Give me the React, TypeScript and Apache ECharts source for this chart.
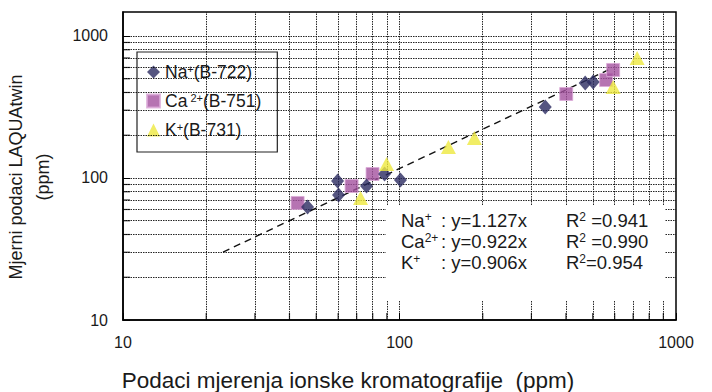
import React, { useEffect, useRef } from "react";
import * as echarts from "echarts";

// ---- data ----
const naName = "Na+(B-722)";
const caName = "Ca2+(B-751)";
const kName = "K+(B-731)";

const naData: [number, number][] = [
  [46.5, 62.5], [59.7, 95.2], [60.2, 75.9], [76.0, 87.8], [88.3, 106.7],
  [100.8, 96.8], [336.6, 316.2], [469.5, 466.7], [501.6, 474.3],
];
const caData: [number, number][] = [
  [42.8, 66.7], [67.1, 87.8], [79.9, 106.7], [400.9, 390.5], [558.9, 489.8], [592.5, 576.3],
];
const kData: [number, number][] = [
  [72.3, 72.3], [89.8, 125.5], [150.3, 165.4], [186.6, 191.3], [592.5, 437.4], [723.4, 700.0],
];
const trendData: [number, number][] = [[23.0, 30.1], [568, 576]];

const xMin = 10;
const xMax = 1000;
const yMin = 10;
const yMax = 1475;
const majorLabels = [10, 100, 1000];
const xGrid = [20, 30, 40, 50, 60, 70, 80, 90, 100, 200, 300, 400, 500, 600, 700, 800, 900];
const yGrid = [20, 30, 40, 50, 60, 70, 80, 90, 100, 200, 300, 400, 500, 600, 700, 800, 900, 1000];
const xMinorTicks = [20, 30, 40, 50, 60, 70, 80, 90, 200, 300, 400, 500, 600, 700, 800, 900];
const yMinorTicks = [20, 30, 40, 50, 60, 70, 80, 90, 200, 300, 400, 500, 600, 700, 800, 900];

const eqIons = ["{n|Na}{s|+}", "{n|Ca}{s|2+}", "{n|K}{s|+}"];
const eqTexts = [": y=1.127x", ": y=0.922x", ": y=0.906x"];
const eqR2 = ["{n|R}{s|2}{n| =0.941}", "{n|R}{s|2}{n| =0.990}", "{n|R}{s|2}{n|=0.954}"];

const legendRich: Record<string, string> = {
  [naName]: "{n|Na}{s|+}{n|(B-722)}",
  [caName]: "{n|Ca}{s| 2+}{n|(B-751)}",
  [kName]: "{n|K}{s|+}{n|(B-731)}",
};

const FONT = "'Liberation Sans', Arial, Helvetica, sans-serif";
const TXT = "#1a1a1a";

export default function App() {
  const ref = useRef<HTMLDivElement>(null);
  useEffect(() => {
    if (!ref.current) return;
    const chart = echarts.init(ref.current, undefined, { renderer: "svg" });
    const gridLineStyle = { type: [1.5, 1] as any, color: "#000", width: 1, opacity: 0.85 };
    const annTexts: any[] = [];
    const lineYs = [220, 241, 262];
    const AF = 18.5;
    const rich = {
      n: { fontSize: AF, fontFamily: FONT, fill: TXT, lineHeight: 18 },
      s: { fontSize: 12, fontFamily: FONT, fill: TXT, verticalAlign: "top", lineHeight: 11 },
    };
    lineYs.forEach((yy, i) => {
      annTexts.push({
        type: "text", z: 60, x: 401, y: yy,
        style: { text: eqIons[i], rich, fontFamily: FONT, fontSize: AF, fill: TXT, verticalAlign: "middle" },
      });
      annTexts.push({
        type: "text", z: 60, x: 441, y: yy,
        style: { text: eqTexts[i], fontFamily: FONT, fontSize: AF, fill: TXT, verticalAlign: "middle", lineHeight: 18 },
      });
      annTexts.push({
        type: "text", z: 60, x: 566, y: yy,
        style: { text: eqR2[i], rich, fontFamily: FONT, fontSize: AF, fill: TXT, verticalAlign: "middle" },
      });
    });

    chart.setOption({
      animation: false,
      backgroundColor: "#fff",
      textStyle: { fontFamily: FONT },
      grid: {
        left: 123, right: 36, top: 12, bottom: 72,
        show: true, borderColor: "#000", borderWidth: 1.5, backgroundColor: "transparent",
      },
      xAxis: {
        type: "log", logBase: 10, min: xMin, max: xMax,
        axisLine: { show: true, lineStyle: { color: "#000", width: 1.5 } },
        axisTick: { show: true, inside: true, length: 7, lineStyle: { color: "#000" } },
        splitLine: { show: false },
        minorTick: { show: false },
        axisLabel: {
          color: TXT, fontSize: 16, fontFamily: FONT, margin: 14,
          formatter: (v: number) => (majorLabels.includes(Math.round(v)) ? String(Math.round(v)) : ""),
        },
      },
      yAxis: {
        type: "log", logBase: 10, min: yMin, max: yMax,
        axisLine: { show: true, lineStyle: { color: "#000", width: 1.5 } },
        axisTick: { show: true, inside: true, length: 7, lineStyle: { color: "#000" } },
        splitLine: { show: false },
        minorTick: { show: false },
        axisLabel: {
          color: TXT, fontSize: 16, fontFamily: FONT, margin: 15,
          showMaxLabel: false,
          formatter: (v: number) => (majorLabels.includes(Math.round(v)) ? String(Math.round(v)) : ""),
        },
      },
      legend: {
        data: [naName, caName, kName],
        orient: "vertical",
        left: 137, top: 52,
        padding: [11, 16, 13, 9],
        itemGap: 11,
        itemWidth: 13, itemHeight: 13,
        backgroundColor: "#fff",
        borderColor: "#222", borderWidth: 1.2, borderRadius: 0,
        formatter: (name: string) => legendRich[name] || name,
        textStyle: {
          color: TXT, fontFamily: FONT, fontSize: 17.5,
          rich: {
            n: { fontSize: 17.5, fontFamily: FONT, color: TXT, lineHeight: 18 },
            s: { fontSize: 11, fontFamily: FONT, color: TXT, verticalAlign: "top", lineHeight: 11 },
          },
        },
      },
      series: [
        {
          name: "grid", type: "line", data: [], silent: true, z: 1,
          markLine: {
            silent: true, symbol: ["none", "none"], label: { show: false },
            lineStyle: gridLineStyle, animation: false,
            data: [
              ...xGrid.map((v) => ({ xAxis: v })),
              ...yGrid.map((v) => ({ yAxis: v })),
            ],
          },
        },
        {
          name: "xticks", type: "scatter", silent: true, clip: false, z: 3,
          symbol: "rect", symbolSize: [1.2, 7], symbolOffset: [0, -3.5],
          itemStyle: { color: "#000" },
          data: xMinorTicks.map((v) => [v, yMin]),
        },
        {
          name: "yticks", type: "scatter", silent: true, clip: false, z: 3,
          symbol: "rect", symbolSize: [7, 1.2], symbolOffset: [3.5, 0],
          itemStyle: { color: "#000" },
          data: yMinorTicks.map((v) => [xMin, v]),
        },
        {
          name: "trend", type: "line", data: trendData, silent: true, z: 4,
          symbol: "none",
          lineStyle: { color: "#111", width: 1.4, type: [7, 5] as any },
        },
        {
          name: caName, type: "scatter", data: caData, z: 5,
          symbol: "rect", symbolSize: 13,
          itemStyle: { color: "#a4519f", borderColor: "#dcaad8", borderWidth: 1 },
        },
        {
          name: naName, type: "scatter", data: naData, z: 6,
          symbol: "diamond", symbolSize: [13, 15],
          itemStyle: { color: "#2b2b60" },
        },
        {
          name: kName, type: "scatter", data: kData, z: 7,
          symbol: "triangle", symbolSize: [15, 14],
          itemStyle: { color: "#ede83e" },
        },
      ],
      graphic: [
        {
          type: "rect", z: 50,
          shape: { x: 386, y: 205, width: 279, height: 95 },
          style: { fill: "#fff" },
        },
        ...annTexts,
        {
          type: "text", z: 51, x: 348, y: 380,
          style: {
            text: "Podaci mjerenja ionske kromatografije  (ppm)",
            fontFamily: FONT, fontSize: 22.5, fill: TXT, align: "center", verticalAlign: "middle",
          },
        },
        {
          type: "text", z: 51, x: 29, y: 177, rotation: Math.PI / 2,
          style: {
            text: "Mjerni podaci LAQUAtwin\n(ppm)",
            fontFamily: FONT, fontSize: 18, fill: TXT, align: "center", verticalAlign: "middle",
            lineHeight: 27,
          },
        },
      ],
    });
    return () => chart.dispose();
  }, []);
  return (
    <div
      ref={ref}
      style={{ position: "fixed", left: 0, top: 0, width: 712, height: 392, background: "#fff" }}
    />
  );
}
